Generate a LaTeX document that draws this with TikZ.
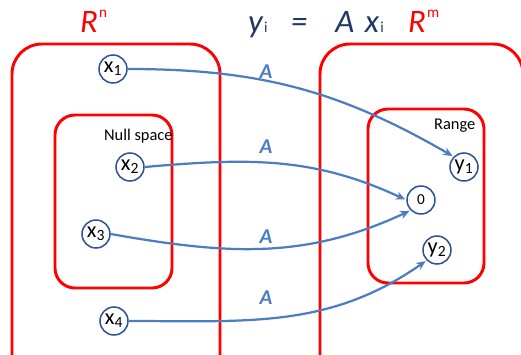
\documentclass[tikz,border=0pt]{standalone}
\usepackage{fontspec}
\setmainfont{Carlito}
\usetikzlibrary{arrows.meta}
\definecolor{spacered}{RGB}{255,0,0}
\definecolor{mapblue}{RGB}{74,126,193}
\definecolor{ptblue}{RGB}{47,85,151}
\definecolor{eqblue}{RGB}{31,56,100}
\newcommand{\supidx}[1]{\hspace{1pt}\raisebox{12pt}{\upshape\fontsize{13}{13}\selectfont #1}}
\newcommand{\subidx}[1]{\hspace{1pt}{\upshape\fontsize{13}{13}\selectfont #1}}

\begin{document}
\begin{tikzpicture}[x=0.03cm, y=-0.03cm,
    space/.style={draw=spacered, line width=2.5pt, rounded corners=0.9cm},
    subspace/.style={draw=spacered, line width=2.5pt, rounded corners=0.6cm},
    pt/.style={draw=ptblue, line width=1.3pt, circle, fill=white,
        minimum size=0.84cm, inner sep=0pt, font=\fontsize{19}{19}\selectfont},
    maparrow/.style={-{Stealth[length=8pt, width=7pt]}, draw=mapblue, line width=1.9pt, shorten >=1pt},
    maplabel/.style={text=mapblue, font=\fontsize{18}{18}\selectfont\bfseries\itshape},
    boxlabel/.style={anchor=base west, font=\fontsize{14}{14}\selectfont},
    head/.style={anchor=base west, inner sep=0pt, font=\fontsize{28}{28}\selectfont}
]
\useasboundingbox (0,0) rectangle (521,354);
\clip (0,0) rectangle (521,354);
% headings
\node[head, text=spacered] (rn) at (80,32) {\itshape R\supidx{n}};
\node[head, text=eqblue] (eq) at (248,32) {\itshape y\subidx{i}\hspace{20pt}=\hspace{24pt}A\hspace{9pt}x\subidx{i}};
\node[head, text=spacered] (rm) at (408,32) {\itshape R\supidx{m}};
% spaces
\draw[space] (12,44) rectangle (220,420);
\draw[space] (320,44) rectangle (523,420);
\draw[subspace] (55,115) rectangle (172,288);
\draw[subspace] (368,109) rectangle (484,283);
\node[boxlabel] (null) at (100,140) {Null space};
\node[boxlabel] (range) at (430,129) {Range};
% points
\node[pt] (x1) at (113,69)  {x\textsubscript{1}};
\node[pt] (x2) at (130,167) {x\textsubscript{2}};
\node[pt] (x3) at (96,234)  {x\textsubscript{3}};
\node[pt] (x4) at (114,321) {x\textsubscript{4}};
\node[pt] (y1) at (464,167) {y\textsubscript{1}};
\node[pt, font=\fontsize{13}{13}\selectfont] (zero) at (421,200) {0};
\node[pt] (y2) at (437,250) {y\textsubscript{2}};
% mappings
\draw[maparrow] (x1.east) to[out=0, in=150] (y1.north west);
\draw[maparrow] (x2.east) to[out=5, in=155] (zero.west);
\draw[maparrow] (x3.east) to[out=-10, in=-155] (zero.south west);
\draw[maparrow] (x4.east) to[out=0, in=-145] (y2.south west);
\foreach \y/\n in {72/a1, 147/a2, 237/a3, 298/a4}
    \node[maplabel] (\n) at (266,\y) {A};
\end{tikzpicture}
\end{document}
